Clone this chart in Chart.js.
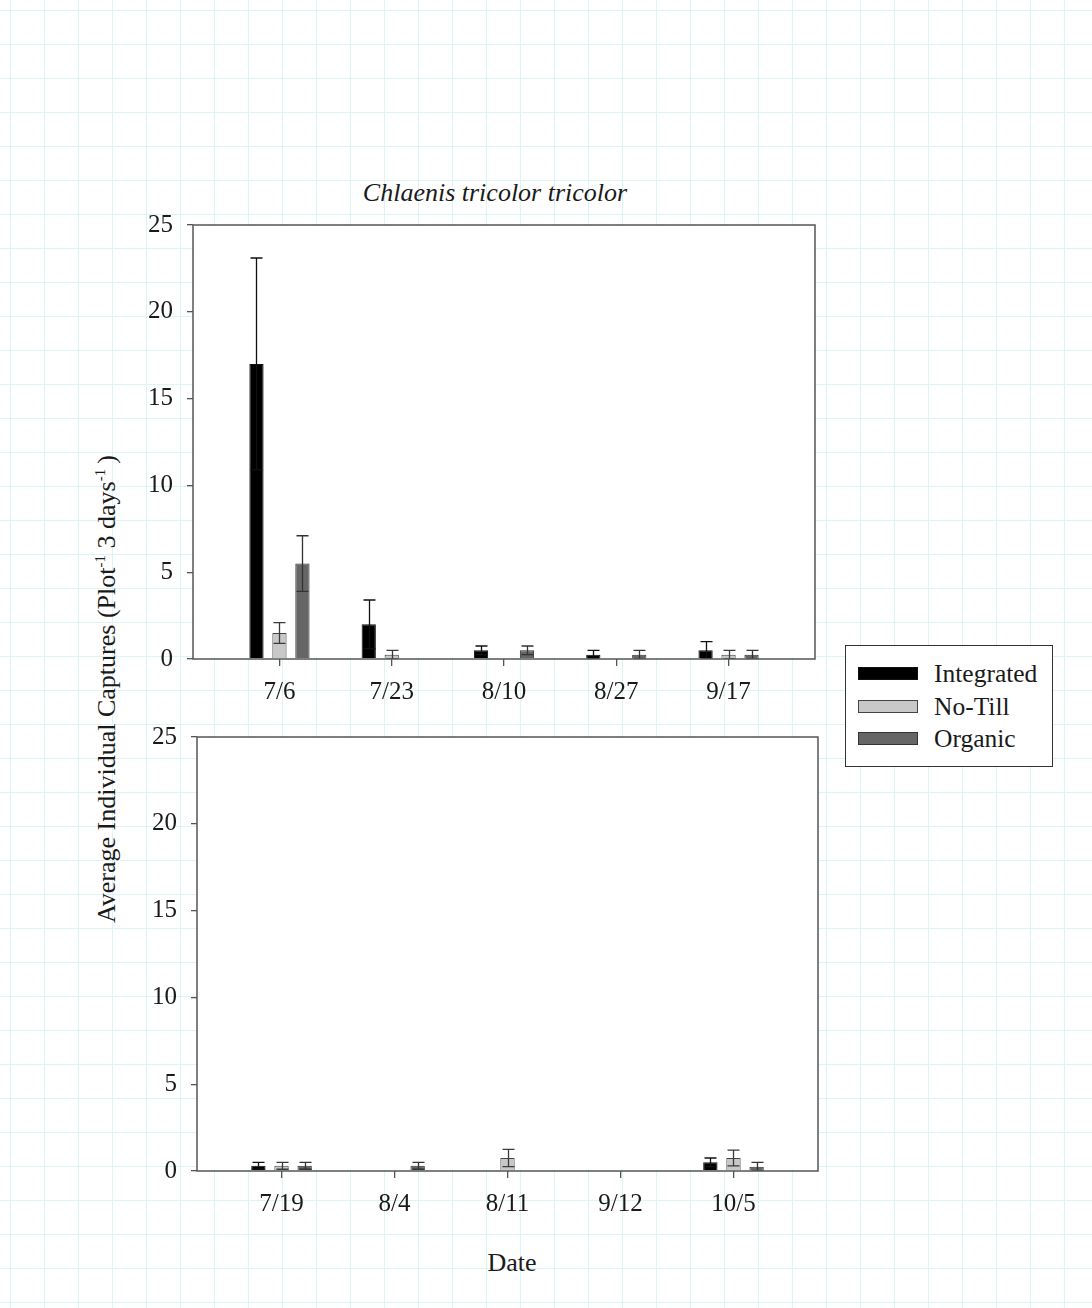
<!DOCTYPE html>
<html>
<head>
<meta charset="utf-8">
<script src="https://cdn.jsdelivr.net/npm/chart.js@4/dist/chart.umd.min.js"></script>
<style>
  html, body { margin: 0; padding: 0; }
  body {
    width: 1092px; height: 1308px; position: relative; overflow: hidden;
    background-color: #ffffff;
    background-image:
      linear-gradient(to right, #dcf4f4 1px, transparent 1px),
      linear-gradient(to bottom, #dcf4f4 1px, transparent 1px);
    background-size: 34px 34px;
    background-position: 10px 10px;
    font-family: "Liberation Serif", "Times New Roman", serif;
    color: #1a1a1a;
  }
  canvas { position: absolute; left: 0; }
  .txt { position: absolute; white-space: nowrap; font-size: 26px; line-height: 1; }
  #title { left: 495px; top: 180px; transform: translateX(-50%); font-style: italic; }
  #ylab { left: 107px; top: 689px; transform: translate(-50%, -50%) rotate(-90deg); font-size: 26px; }
  #ylab sup { font-size: 15px; vertical-align: 10px; line-height: 0; }
  #xlab { left: 512px; top: 1250px; transform: translateX(-50%); }
  #y2010 { left: 705px; top: 289px; }
  #y2011 { left: 711px; top: 800px; }
  #legend {
    position: absolute; left: 845px; top: 645px; width: 208px; height: 122px;
    border: 1px solid #333; background: #fff; box-sizing: border-box;
  }
  .lrow { position: absolute; left: 12px; height: 26px; }
  .lsw { position: absolute; left: 0; top: 6px; width: 60px; height: 13px; box-sizing: border-box; border: 1px solid #333; }
  .ltx { position: absolute; left: 76px; top: 0; font-size: 25.5px; line-height: 26px; white-space: nowrap; }
</style>
</head>
<body>
<div id="title" class="txt">Chlaenis tricolor tricolor</div>
<div id="ylab" class="txt">Average Individual Captures (Plot<sup>-1</sup> 3 days<sup>-1</sup>&#8201;)</div>
<div id="xlab" class="txt">Date</div>
<div id="y2010" class="txt">2010</div>
<div id="y2011" class="txt">2011</div>
<canvas id="c1" width="1092" height="720" style="top:0px"></canvas>
<canvas id="c2" width="1092" height="618" style="top:690px"></canvas>
<div id="legend"></div>
<script>
// ---- data ----
const categories2010 = ['7/6', '7/23', '8/10', '8/27', '9/17'];
const categories2011 = ['7/19', '8/4', '8/11', '9/12', '10/5'];
const seriesNames = ['Integrated', 'No-Till', 'Organic'];
const seriesColors = ['#000000', '#c8c8c8', '#666666'];
const seriesBorders = ['#111111', '#444444', '#333333'];
const errorColors = ['#111111', '#3a3a3a', '#333333'];

const integrated2010 = [17, 2, 0.5, 0.25, 0.5];
const integratedErr2010 = [6.1, 1.4, 0.25, 0.25, 0.5];
const noTill2010 = [1.5, 0.25, 0, 0, 0.25];
const noTillErr2010 = [0.6, 0.25, 0, 0, 0.25];
const organic2010 = [5.5, 0, 0.5, 0.25, 0.25];
const organicErr2010 = [1.6, 0, 0.25, 0.25, 0.25];

const integrated2011 = [0.3, 0, 0, 0, 0.5];
const integratedErr2011 = [0.2, 0, 0, 0, 0.25];
const noTill2011 = [0.3, 0, 0.75, 0, 0.75];
const noTillErr2011 = [0.2, 0, 0.5, 0, 0.45];
const organic2011 = [0.3, 0.3, 0, 0, 0.25];
const organicErr2011 = [0.2, 0.2, 0, 0, 0.25];

const yTicks = [0, 5, 10, 15, 20, 25];

// ---- legend ----
const legendEl = document.getElementById('legend');
seriesNames.forEach((name, i) => {
  const row = document.createElement('div');
  row.className = 'lrow';
  row.style.top = (15 + i * 32.5) + 'px';
  row.innerHTML = '<div class="lsw" style="background:' + seriesColors[i] + ';border-color:' + seriesBorders[i] + '"></div><div class="ltx">' + name + '</div>';
  legendEl.appendChild(row);
});

// ---- plugins ----
const plotBg = {
  id: 'plotBg',
  beforeDraw(chart) {
    const a = chart.chartArea, ctx = chart.ctx;
    ctx.save();
    ctx.fillStyle = '#ffffff';
    ctx.fillRect(a.left, a.top, a.right - a.left, a.bottom - a.top);
    ctx.restore();
  },
  afterDraw(chart) {
    const a = chart.chartArea, ctx = chart.ctx;
    ctx.save();
    ctx.strokeStyle = '#555555';
    ctx.lineWidth = 1.5;
    ctx.strokeRect(a.left, a.top, a.right - a.left, a.bottom - a.top);
    ctx.restore();
  }
};

const errorBars = {
  id: 'errorBars',
  afterDatasetsDraw(chart) {
    const ctx = chart.ctx, y = chart.scales.y, a = chart.chartArea;
    ctx.save();
    ctx.beginPath();
    ctx.rect(a.left, a.top - 2, a.right - a.left, a.bottom - a.top + 2);
    ctx.clip();
    ctx.lineWidth = 1.3;
    chart.data.datasets.forEach((ds, di) => {
      const meta = chart.getDatasetMeta(di);
      ctx.strokeStyle = ds.errorColor;
      meta.data.forEach((bar, i) => {
        const v = ds.data[i].y, e = ds.errors[i];
        if (!e) return;
        const yt = y.getPixelForValue(v + e);
        const yb = y.getPixelForValue(Math.max(0, v - e));
        const x = Math.round(bar.x) + 0.5;
        const hw = 6;
        ctx.beginPath();
        ctx.moveTo(x, yb); ctx.lineTo(x, yt);
        ctx.moveTo(x - hw, yt); ctx.lineTo(x + hw, yt);
        ctx.moveTo(x - hw, yb); ctx.lineTo(x + hw, yb);
        ctx.stroke();
      });
    });
    ctx.restore();
  }
};

function makeChart(canvasId, cats, series, errs, geom) {
  const datasets = seriesNames.map((name, k) => ({
    label: name,
    data: series[k].map((v, i) => ({ x: i, y: v })),
    errors: errs[k],
    errorColor: errorColors[k],
    backgroundColor: seriesColors[k],
    borderColor: seriesBorders[k],
    borderWidth: 1,
    categoryPercentage: 0.614,
    barPercentage: 0.62
  }));
  return new Chart(document.getElementById(canvasId), {
    type: 'bar',
    data: { datasets },
    plugins: [plotBg, errorBars],
    options: {
      responsive: false,
      animation: false,
      devicePixelRatio: 1,
      layout: { padding: { top: geom.top, right: geom.right, left: 0, bottom: 0 } },
      plugins: { legend: { display: false }, tooltip: { enabled: false } },
      scales: {
        x: {
          type: 'linear',
          offset: false,
          min: -geom.off,
          max: cats.length - 1 + geom.off,
          afterBuildTicks(s) { s.ticks = cats.map((c, i) => ({ value: i })); },
          afterFit(s) { s.height = geom.xh; },
          ticks: {
            callback: (v) => cats[v],
            font: { family: 'Liberation Serif', size: 25 },
            color: '#1a1a1a',
            padding: 11,
            maxRotation: 0,
            autoSkip: false
          },
          grid: { offset: false, drawOnChartArea: false, drawTicks: true, tickLength: 7, color: '#555555', lineWidth: 1.3 },
          border: { display: false }
        },
        y: {
          min: 0, max: 25,
          afterBuildTicks(s) { s.ticks = yTicks.map(v => ({ value: v })); },
          afterFit(s) { s.width = geom.left; },
          ticks: {
            font: { family: 'Liberation Serif', size: 25 },
            color: '#1a1a1a',
            padding: 14
          },
          grid: { drawOnChartArea: false, drawTicks: true, tickLength: 6, color: '#555555', lineWidth: 1.3 },
          border: { display: false }
        }
      }
    }
  });
}

makeChart('c1', categories2010,
  [integrated2010, noTill2010, organic2010],
  [integratedErr2010, noTillErr2010, organicErr2010],
  { top: 225, right: 277, left: 193, xh: 61, off: 0.77 });

makeChart('c2', categories2011,
  [integrated2011, noTill2011, organic2011],
  [integratedErr2011, noTillErr2011, organicErr2011],
  { top: 47, right: 274, left: 197, xh: 137, off: 0.748 });
</script>
</body>
</html>
